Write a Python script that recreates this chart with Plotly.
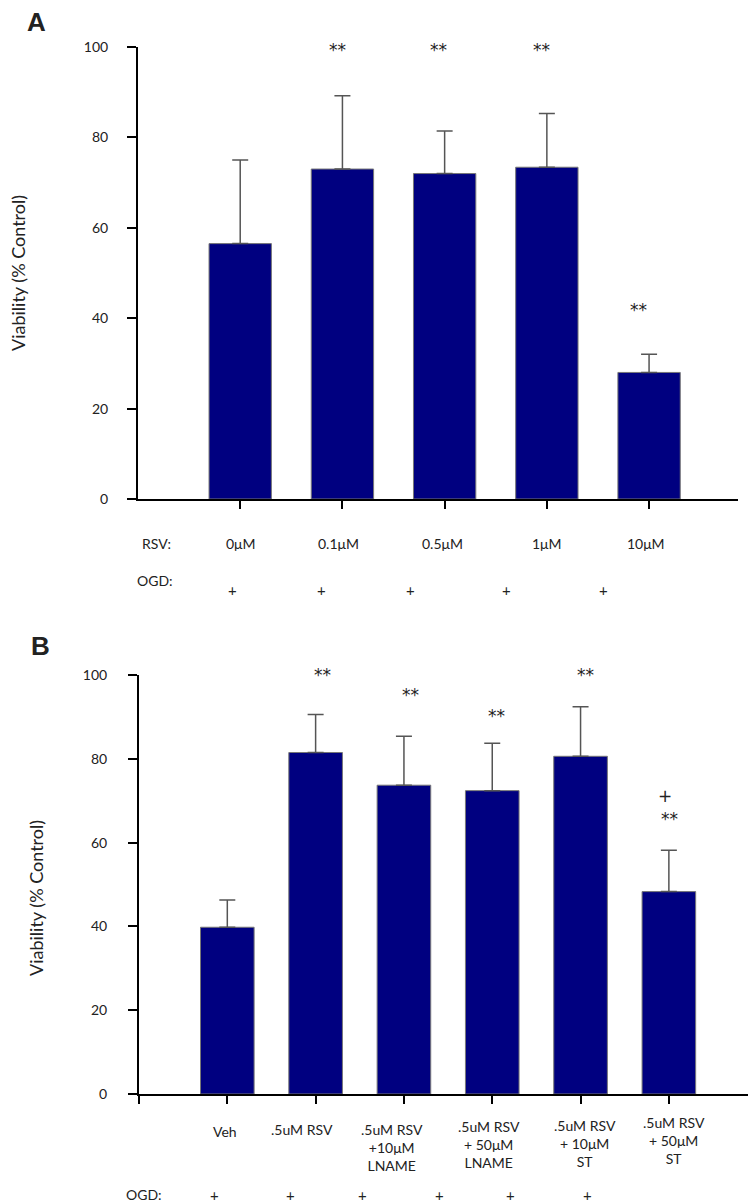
import plotly.graph_objects as go

# ---------------- data ----------------
# Panel A
a_categories = ["0μM", "0.1μM", "0.5μM", "1μM", "10μM"]
a_means = [56.5, 73.0, 72.0, 73.4, 28.0]
a_errors = [18.5, 16.2, 9.4, 11.9, 4.0]
a_sig = ["", "**", "**", "**", "**"]
a_sig_y = [None, 99.3, 99.3, 99.3, 41.8]

# Panel B
b_categories = ["Veh", ".5uM RSV", ".5uM RSV<br>+10μM<br>LNAME", ".5uM RSV<br>+ 50μM<br>LNAME",
                ".5uM RSV<br>+ 10μM<br>ST", ".5uM RSV<br>+ 50μM<br>ST"]
b_means = [39.8, 81.5, 73.7, 72.4, 80.6, 48.3]
b_errors = [6.5, 9.1, 11.7, 11.3, 11.8, 9.9]
b_sig = ["", "**", "**", "**", "**", "**"]
b_sig_y = [None, 100.0, 95.2, 90.2, 100.0, 65.6]
b_plus_sig = ["", "", "", "", "", "+"]
b_plus_sig_y = [None, None, None, None, None, 71.2]

y_ticks = [0, 20, 40, 60, 80, 100]
ogd_a = ["+", "+", "+", "+", "+"]
ogd_b = ["+", "+", "+", "+", "+", "+"]

# ---------------- layout helpers ----------------
W, H = 756, 1204
OFF = 8  # page body margin
FONT = "Liberation Sans Narrow, Arial Narrow, Lato, sans-serif"
BAR_COLOR = "#000080"


def px_x(p):
    return (p - OFF) / W


def px_y(p):
    return 1 - (p - OFF) / H


fig = go.Figure()

ax = list(range(1, len(a_categories) + 1))
bx = list(range(1, len(b_categories) + 1))

err_style = dict(type="data", symmetric=False, color="#555555", thickness=1.5, width=8)

fig.add_trace(go.Bar(
    x=ax, y=a_means, width=0.61, marker=dict(color=BAR_COLOR, line=dict(color="#777777", width=1)),
    error_y=dict(array=a_errors, arrayminus=[0] * len(a_errors), **err_style),
    xaxis="x", yaxis="y", hoverinfo="skip"))

fig.add_trace(go.Bar(
    x=bx, y=b_means, width=0.607, marker=dict(color=BAR_COLOR, line=dict(color="#777777", width=1)),
    error_y=dict(array=b_errors, arrayminus=[0] * len(b_errors), **err_style),
    xaxis="x2", yaxis="y2", hoverinfo="skip"))

axis_common = dict(showgrid=False, zeroline=False, showline=True, linecolor="black", linewidth=2,
                   ticks="outside", tickcolor="black", tickwidth=1.5, automargin=False)

tick_font = dict(family=FONT, size=14, color="#222222")
fig.update_layout(
    width=W, height=H, margin=dict(l=0, r=0, t=0, b=0),
    plot_bgcolor="white", paper_bgcolor="white", showlegend=False,
    font=dict(family=FONT, size=14, color="#222222"),
    xaxis=dict(domain=[px_x(138), px_x(738)], range=[0, 5.87], anchor="y",
               tickvals=ax, ticklen=8, showticklabels=False, **axis_common),
    yaxis=dict(domain=[px_y(499), px_y(47)], range=[0, 100], anchor="x",
               tickvals=y_ticks, ticklen=9, ticklabelstandoff=16, tickfont=tick_font, **axis_common),
    xaxis2=dict(domain=[px_x(139), px_x(751)], range=[0, 6.93], anchor="y2",
                tickvals=[0] + bx, ticklen=8, showticklabels=False, **axis_common),
    yaxis2=dict(domain=[px_y(1094), px_y(675)], range=[0, 100], anchor="x2",
                tickvals=y_ticks, ticklen=9, ticklabelstandoff=18, tickfont=tick_font, **axis_common),
)

ann = []


def add_text(text, x, y, size=14, family=FONT, xref="paper", yref="paper", **kw):
    d = dict(text=text, x=x, y=y, xref=xref, yref=yref, showarrow=False,
             xanchor="center", yanchor="middle", font=dict(family=family, size=size, color="#222222"))
    d.update(kw)
    ann.append(d)


# panel letters
add_text("<b>A</b>", px_x(36), px_y(22), size=26, family="Liberation Sans, Arial, sans-serif")
add_text("<b>B</b>", px_x(40), px_y(646), size=26, family="Liberation Sans, Arial, sans-serif")

# y-axis titles
add_text("Viability (% Control)", px_x(18), px_y(273), size=18, family="Lato, sans-serif", textangle=-90)
add_text("Viability (% Control)", px_x(36), px_y(898), size=18, family="Lato, sans-serif", textangle=-90)

# significance marks
STAR = "DejaVu Sans, sans-serif"
a_star_shift = [0, -5, -6, -5, -11]
b_star_shift = [0, 7, 7, 4, 5, 1]
for i, (s, sy) in enumerate(zip(a_sig, a_sig_y)):
    if s:
        add_text(s, ax[i], sy, size=17, family=STAR, xref="x", yref="y", xshift=a_star_shift[i])
for i, (s, sy) in enumerate(zip(b_sig, b_sig_y)):
    if s:
        add_text(s, bx[i], sy, size=17, family=STAR, xref="x2", yref="y2", xshift=b_star_shift[i])
for i, (s, sy) in enumerate(zip(b_plus_sig, b_plus_sig_y)):
    if s:
        add_text(s, bx[i], sy, size=17, family=STAR, xref="x2", yref="y2", xshift=-4)

# panel A row labels
add_text("RSV:", px_x(156), px_y(543))
a_label_shift = [0, -4, -2, 0, -3]
for i, c in enumerate(a_categories):
    add_text(c, ax[i], px_y(543), xref="x", xshift=a_label_shift[i])
add_text("OGD:", px_x(155), px_y(581))
a_plus_px = [232, 321, 410, 506, 603]
for i, p in enumerate(ogd_a):
    add_text(p, px_x(a_plus_px[i]), px_y(590), size=15)

# panel B labels
b_label_shift = [-2, -14, -12, -3, 4, 5]
b_label_top = [1121, 1119, 1119, 1116, 1115, 1112]
for i, c in enumerate(b_categories):
    add_text(c, bx[i], px_y(b_label_top[i]), xref="x2", yanchor="top", xshift=b_label_shift[i])
add_text("OGD:", px_x(144), px_y(1194))
b_plus_px = [214, 290, 362, 439, 510, 587]
for i, p in enumerate(ogd_b):
    add_text(p, px_x(b_plus_px[i]), px_y(1195), size=15)

fig.update_layout(annotations=ann)
fig.write_html("out.html")
